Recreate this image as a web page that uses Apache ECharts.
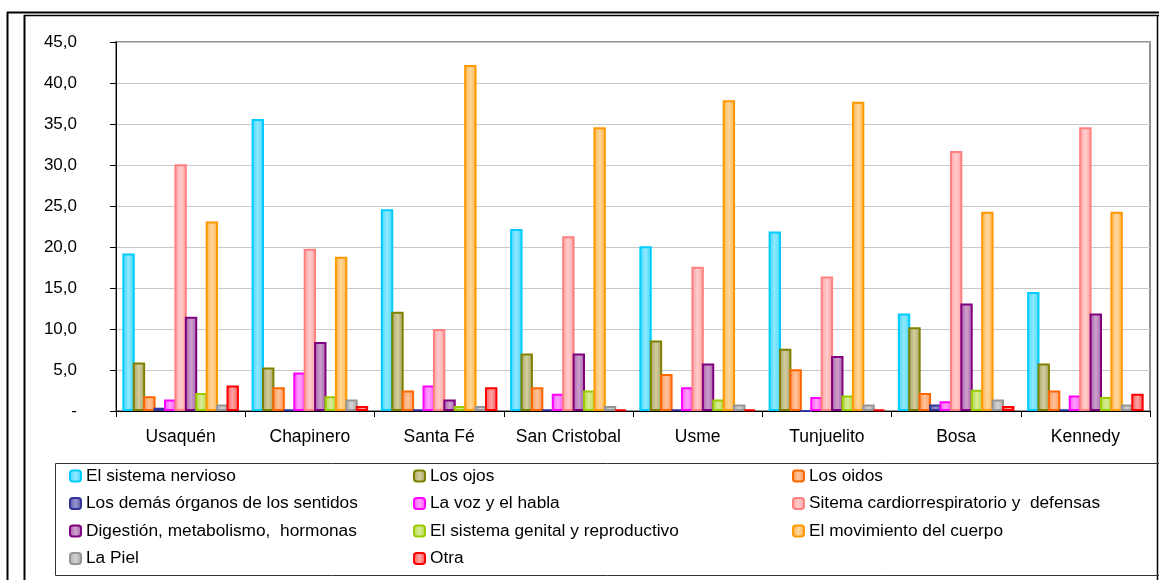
<!DOCTYPE html>
<html>
<head>
<meta charset="utf-8">
<script src="https://cdn.jsdelivr.net/npm/echarts@6/dist/echarts.min.js"></script>
<style>
html,body{margin:0;padding:0;background:#fff;}
#chart{width:1159px;height:580px;}
</style>
</head>
<body>
<div id="chart"></div>
<script>
var categories = ['Usaquén','Chapinero','Santa Fé','San Cristobal','Usme','Tunjuelito','Bosa','Kennedy'];
var seriesNames = ['El sistema nervioso','Los ojos','Los oidos','Los demás órganos de los sentidos','La voz y el habla','Sitema cardiorrespiratorio y  defensas','Digestión, metabolismo,  hormonas','El sistema genital y reproductivo','El movimiento del cuerpo','La Piel','Otra'];
var nervioso    = [19.2, 35.6, 24.6, 22.2, 20.1, 21.9, 11.9, 14.5];
var ojos        = [5.9, 5.3, 12.1, 7.0, 8.6, 7.6, 10.2, 5.8];
var oidos       = [1.8, 2.9, 2.5, 2.9, 4.5, 5.1, 2.2, 2.5];
var demas       = [0.4, 0.2, 0.2, 0.2, 0.2, 0.0, 0.8, 0.2];
var voz         = [1.4, 4.7, 3.1, 2.1, 2.9, 1.7, 1.2, 1.9];
var cardio      = [30.1, 19.8, 10.0, 21.3, 17.6, 16.4, 31.7, 34.6];
var digestion   = [11.5, 8.4, 1.4, 7.0, 5.8, 6.7, 13.1, 11.9];
var genital     = [2.2, 1.8, 0.6, 2.5, 1.4, 1.9, 2.6, 1.7];
var movimiento  = [23.1, 18.8, 42.2, 34.6, 37.9, 37.7, 24.3, 24.3];
var piel        = [0.8, 1.4, 0.6, 0.6, 0.8, 0.8, 1.4, 0.8];
var otra        = [3.1, 0.6, 2.9, 0.2, 0.2, 0.2, 0.6, 2.1];
var yTicks = {min: 0, max: 45, interval: 5};

var allData = [nervioso, ojos, oidos, demas, voz, cardio, digestion, genital, movimiento, piel, otra];
var styles = [
  {b:'#00CCFF', e:'#40D6FF', c:'#8FE8FF'},
  {b:'#808000', e:'#A4A062', c:'#D2CE9E'},
  {b:'#FF6600', e:'#FF9552', c:'#FFC29A'},
  {b:'#333399', e:'#5656AA', c:'#9494CC'},
  {b:'#FF00FF', e:'#FF4DFF', c:'#FFA0FF'},
  {b:'#FF8080', e:'#FF9E9E', c:'#FFCCCC'},
  {b:'#800080', e:'#A460A4', c:'#CDA0CD'},
  {b:'#99CC00', e:'#B2D83C', c:'#D8EB98'},
  {b:'#FF9900', e:'#FFB246', c:'#FFD69C'},
  {b:'#969696', e:'#A8A8A8', c:'#D4D4D4'},
  {b:'#FF0000', e:'#FF5555', c:'#FFA4A4'}
];
function grad(s){
  return new echarts.graphic.LinearGradient(0,0,1,0,[
    {offset:0,color:s.e},{offset:0.5,color:s.c},{offset:1,color:s.e}]);
}
var series = seriesNames.map(function(n,i){
  return {
    name:n, type:'bar', data:allData[i],
    barWidth:12.4, barGap:'-16%',
    itemStyle:{color:grad(styles[i]), borderColor:styles[i].b, borderWidth:2},
    emphasis:{disabled:true}
  };
});
var font = 'Liberation Sans, Arial, sans-serif';
function legendCol(names, left){
  return {
    data:names, orient:'vertical', left:left, top:467, padding:0,
    itemWidth:11, itemHeight:11, itemGap:9.5, selectedMode:false,
    textStyle:{fontFamily:font, fontSize:17.3, color:'#000', lineHeight:18}
  };
}
var chart = echarts.init(document.getElementById('chart'));
chart.setOption({
  animation:false,
  backgroundColor:'#fff',
  grid:{left:116, right:9, top:42, bottom:169, show:true, borderColor:'#909090', borderWidth:2, backgroundColor:'transparent'},
  legend:[
    legendCol([seriesNames[0],seriesNames[3],seriesNames[6],seriesNames[9]], 69),
    legendCol([seriesNames[1],seriesNames[4],seriesNames[7],seriesNames[10]], 413),
    legendCol([seriesNames[2],seriesNames[5],seriesNames[8]], 792)
  ],
  xAxis:{
    type:'category', data:categories,
    axisLine:{lineStyle:{color:'#000', width:1}},
    axisTick:{show:true, length:6, interval:0, lineStyle:{color:'#000'}},
    axisLabel:{fontFamily:font, fontSize:17.5, color:'#000', margin:17, interval:0}
  },
  yAxis:{
    type:'value', min:yTicks.min, max:yTicks.max, interval:yTicks.interval,
    axisLine:{show:true, lineStyle:{color:'#000', width:1}},
    axisTick:{show:true, length:6, lineStyle:{color:'#000'}},
    splitLine:{lineStyle:{color:'#C8C8C8', width:1}},
    axisLabel:{fontFamily:font, fontSize:17, color:'#000', margin:39,
      formatter:function(v){ return v===0 ? '-' : v.toFixed(1).replace('.',','); }}
  },
  series:series,
  graphic:[
    {type:'line', shape:{x1:7, y1:12.5, x2:1159, y2:12.5}, style:{stroke:'#000', lineWidth:2}, silent:true},
    {type:'line', shape:{x1:24, y1:15.5, x2:1159, y2:15.5}, style:{stroke:'#000', lineWidth:1.5}, silent:true},
    {type:'line', shape:{x1:7.5, y1:12, x2:7.5, y2:580}, style:{stroke:'#000', lineWidth:2}, silent:true},
    {type:'line', shape:{x1:24.5, y1:15, x2:24.5, y2:580}, style:{stroke:'#000', lineWidth:2}, silent:true},
    {type:'line', shape:{x1:1157.5, y1:15, x2:1157.5, y2:580}, style:{stroke:'#000', lineWidth:1.5}, silent:true},
    {type:'rect', shape:{x:55.5, y:463.5, width:1110, height:112}, style:{fill:'none', stroke:'#333', lineWidth:1}, silent:true}
  ]
});
</script>
</body>
</html>
